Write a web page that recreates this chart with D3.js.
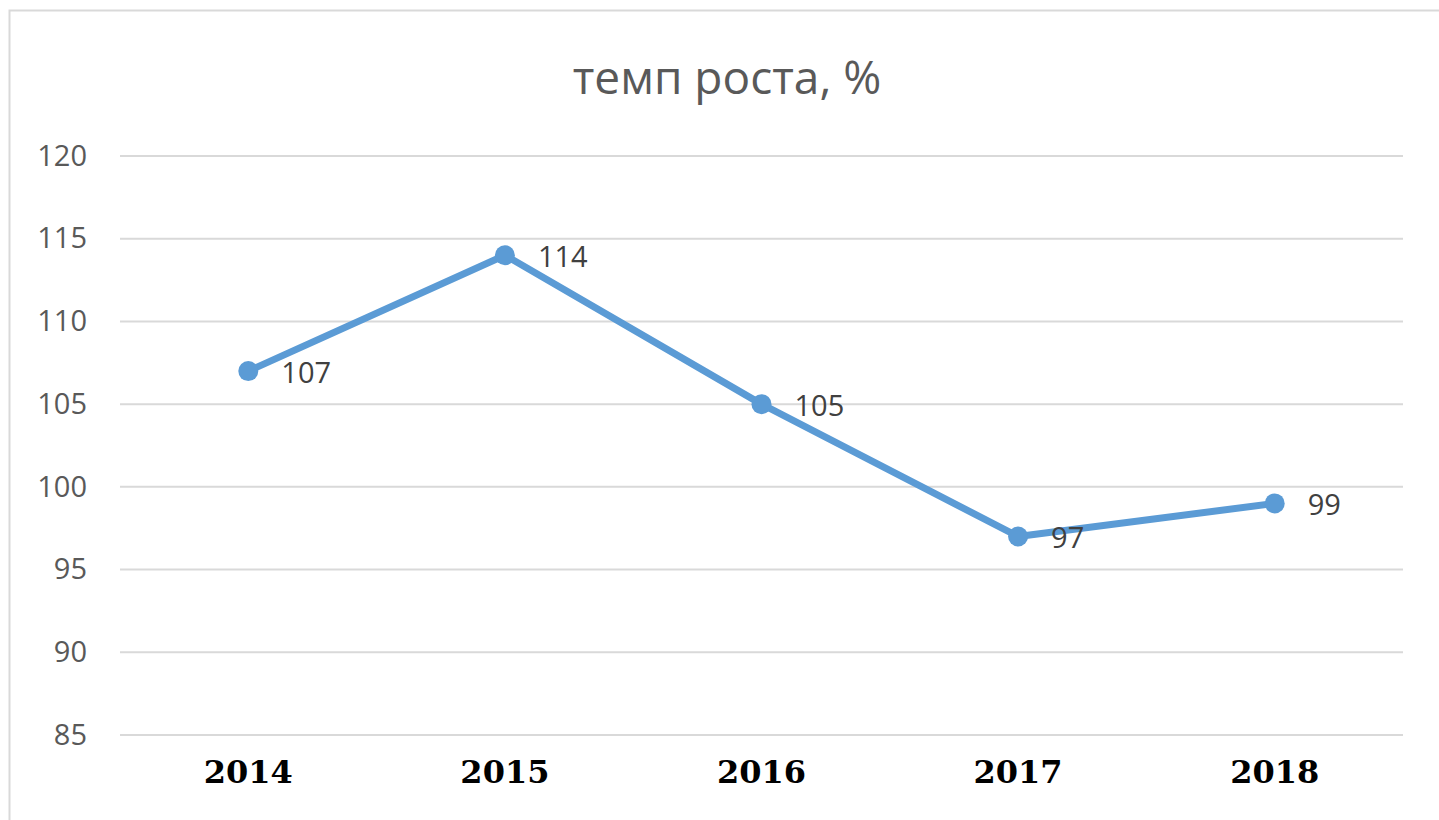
<!DOCTYPE html>
<html>
<head>
<meta charset="utf-8">
<script src="https://cdn.jsdelivr.net/npm/d3@7/dist/d3.min.js"></script>
<style>
  body { margin: 0; background: #fff; }
  svg { display: block; }
</style>
</head>
<body>
<div id="chart"></div>
<script>
var w = 1439;
var h = 820;

// data
var years = ["2014", "2015", "2016", "2017", "2018"];
var rates = [107, 114, 105, 97, 99];
var yTicks = [85, 90, 95, 100, 105, 110, 115, 120];

var svg = d3.select("#chart")
            .append("svg")
            .attr("width", w)
            .attr("height", h);

// outer frame (right and bottom edges fall outside the picture)
svg.append("rect")
    .attr("x", 9.5)
    .attr("y", 10.5)
    .attr("width", w + 20)
    .attr("height", h + 20)
    .attr("fill", "none")
    .attr("stroke", "#d9d9d9")
    .attr("stroke-width", 2);

// title
svg.append("text")
    .attr("x", 727)
    .attr("y", 94)
    .attr("text-anchor", "middle")
    .attr("font-family", "'Open Sans', sans-serif")
    .attr("font-size", 46)
    .attr("fill", "#595959")
    .text("темп роста, %");

// scales
var xScale = d3.scaleBand()
    .domain(years)
    .range([120, 1403]);
var yScale = d3.scaleLinear()
    .domain([85, 120])
    .range([735, 156]);

// grid
svg.append("g")
    .selectAll("line")
    .data(yTicks)
    .enter()
    .append("line")
    .attr("x1", 120)
    .attr("x2", 1403)
    .attr("y1", d => yScale(d))
    .attr("y2", d => yScale(d))
    .attr("stroke", "#d9d9d9")
    .attr("stroke-width", 2);

// y axis labels
var yAxis = d3.axisLeft(yScale)
    .tickValues(yTicks)
    .tickSize(0)
    .tickPadding(0);
var yg = svg.append("g")
    .attr("transform", "translate(87, 0)")
    .call(yAxis);
yg.select(".domain").remove();
yg.selectAll("text")
    .attr("font-family", "'Open Sans', sans-serif")
    .attr("font-size", 29)
    .attr("fill", "#595959");

// x axis labels
var xAxis = d3.axisBottom(xScale)
    .tickSize(0)
    .tickPadding(0);
var xg = svg.append("g")
    .attr("transform", "translate(0, 735)")
    .call(xAxis);
xg.select(".domain").remove();
xg.selectAll("text")
    .attr("dy", 0)
    .attr("y", 48)
    .attr("font-family", "'DejaVu Serif', serif")
    .attr("font-weight", "bold")
    .attr("font-size", 32)
    .attr("fill", "#000");

var cx = d => xScale(d) + xScale.bandwidth() / 2;

// line
var line = d3.line()
    .x((d, i) => cx(years[i]))
    .y(d => yScale(d));
svg.append("path")
    .datum(rates)
    .attr("d", line)
    .attr("fill", "none")
    .attr("stroke", "#5b9bd5")
    .attr("stroke-width", 7)
    .attr("stroke-linejoin", "round");

// markers
svg.selectAll(".dot")
    .data(rates)
    .enter()
    .append("circle")
    .attr("class", "dot")
    .attr("cx", (d, i) => cx(years[i]))
    .attr("cy", d => yScale(d))
    .attr("r", 10)
    .attr("fill", "#5b9bd5");

// value labels
svg.selectAll(".lbl")
    .data(rates)
    .enter()
    .append("text")
    .attr("class", "lbl")
    .attr("x", (d, i) => cx(years[i]) + 33)
    .attr("y", d => yScale(d) + 12)
    .attr("font-family", "'Open Sans', sans-serif")
    .attr("font-size", 29)
    .attr("fill", "#404040")
    .text(d => d);
</script>
</body>
</html>
